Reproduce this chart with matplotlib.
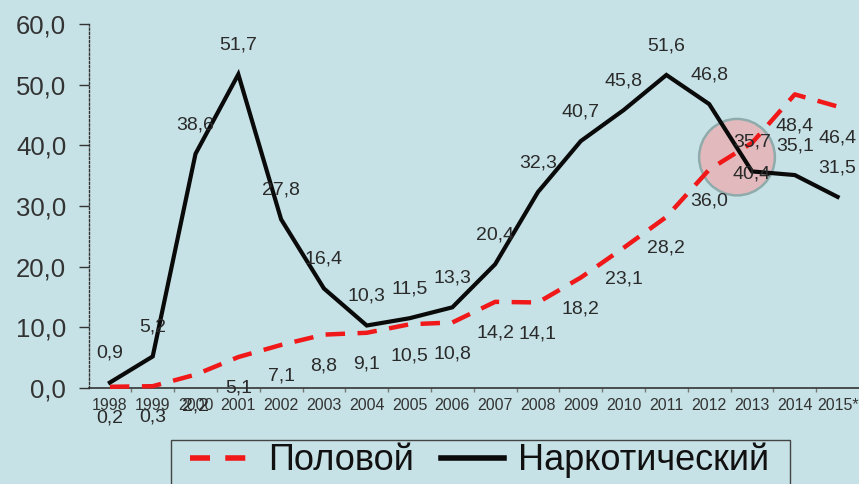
import matplotlib
matplotlib.use("Agg")
import matplotlib.pyplot as plt
from matplotlib.lines import Line2D
from matplotlib.patches import Ellipse, Rectangle
from matplotlib.ticker import FuncFormatter, FixedLocator

# Data
years = ["1998", "1999", "2000", "2001", "2002", "2003", "2004", "2005", "2006",
         "2007", "2008", "2009", "2010", "2011", "2012", "2013", "2014", "2015*"]
sexual = [0.2, 0.3, 2.2, 5.1, 7.1, 8.8, 9.1, 10.5, 10.8,
          14.2, 14.1, 18.2, 23.1, 28.2, 36.0, 40.4, 48.4, 46.4]
narcotic = [0.9, 5.2, 38.6, 51.7, 27.8, 16.4, 10.3, 11.5, 13.3,
            20.4, 32.3, 40.7, 45.8, 51.6, 46.8, 35.7, 35.1, 31.5]
series_names = ["Половой", "Наркотический"]
y_ticks = [0, 10, 20, 30, 40, 50, 60]
highlight_year = "2013"

BG = "#c6e2e6"
TXT = "#2a2a2a"
plt.rcParams["lines.scale_dashes"] = False
plt.rcParams["font.family"] = ["Liberation Sans", "DejaVu Sans"]

W, H = 859, 484
fig = plt.figure(figsize=(W / 100, H / 100), dpi=100, facecolor=BG)
ax = fig.add_axes([88.5 / W, (H - 388) / H, (W - 88.5) / W, (388 - 24) / H])
ax.set_facecolor(BG)

x = list(range(len(years)))
ax.set_xlim(-0.5, len(years) - 0.5)
ax.set_ylim(0, 60)

red_dash = (0, (14, 9))
ax.plot(x, sexual, color="#f01818", lw=3.2, linestyle=red_dash,
        dash_capstyle="butt", zorder=3, clip_on=False)
ax.plot(x, narcotic, color="#0a0a0a", lw=3.0, solid_joinstyle="miter",
        zorder=4, clip_on=False)

# Highlight circle around the crossing of the two series
hi = years.index(highlight_year)
cy = (sexual[hi] + narcotic[hi]) / 2
ax.add_patch(Ellipse((hi - 0.35, cy), 1.77, 12.6, facecolor="#e2babd",
                     edgecolor="#8fabab", lw=1.8, zorder=2))

# Value labels
def fmt(v):
    return f"{v:.1f}".replace(".", ",")

for xi, v in zip(x, narcotic):
    ax.annotate(fmt(v), (xi, v), xytext=(0, 21), textcoords="offset points",
                ha="center", va="center", fontsize=14, color=TXT, zorder=6,
                annotation_clip=False)
for xi, v in zip(x, sexual):
    ax.annotate(fmt(v), (xi, v), xytext=(0, -22.5), textcoords="offset points",
                ha="center", va="center", fontsize=14, color=TXT, zorder=6,
                annotation_clip=False)

# Axes styling
for s in ("top", "right"):
    ax.spines[s].set_visible(False)
ax.spines["left"].set_linestyle((0, (1.5, 1.5)))
ax.spines["left"].set_color("#333333")
ax.spines["left"].set_linewidth(1.0)
ax.spines["bottom"].set_color("#333333")
ax.spines["bottom"].set_linewidth(1.2)

ax.set_yticks(y_ticks)
ax.yaxis.set_major_formatter(FuncFormatter(lambda v, p: fmt(v)))
ax.tick_params(axis="y", length=7, width=1, color="#333333", pad=9,
               labelsize=18.5, labelcolor="#333333")

ax.set_xticks(x)
ax.set_xticklabels(years, family=["Liberation Sans Narrow", "Liberation Sans"],
                   fontsize=11.5, color="#333333")
ax.tick_params(axis="x", which="major", length=0, pad=7)
ax.xaxis.set_minor_locator(FixedLocator([i + 0.5 for i in x[:-1]]))
ax.tick_params(axis="x", which="minor", length=3, width=1, color="#777777")

# Legend
fig.add_artist(Rectangle((171 / W, -0.1), (790 - 171) / W, 0.1 + (H - 440) / H,
                         transform=fig.transFigure, facecolor="none",
                         edgecolor="#444444", lw=1.0))
handles = [Line2D([], [], color="#f01818", lw=4, linestyle=(0, (14.4, 11)),
                  dash_capstyle="butt"),
           Line2D([], [], color="#0a0a0a", lw=4)]
fig.legend(handles, series_names, loc="upper left",
           bbox_to_anchor=(190 / W, 1 - 443 / H), ncol=2, frameon=False,
           borderpad=0, borderaxespad=0, fontsize=26, handlelength=1.75,
           handletextpad=0.4, columnspacing=0.75, labelcolor="#111111")

fig.savefig("out.png", dpi=100, facecolor=BG)
